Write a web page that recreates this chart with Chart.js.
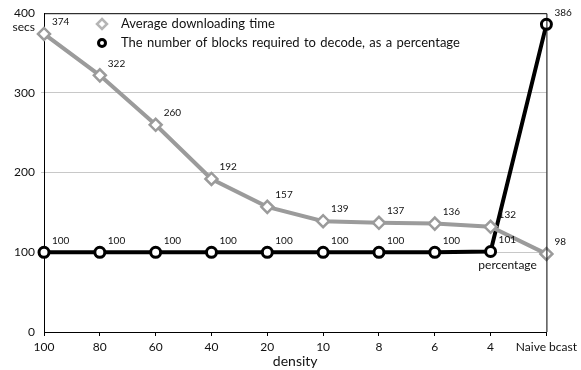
<!DOCTYPE html>
<html>
<head>
<meta charset="utf-8">
<script src="https://cdn.jsdelivr.net/npm/chart.js@4.4.1/dist/chart.umd.min.js"></script>
<style>
  html, body { margin: 0; padding: 0; background: #fff; }
  #wrap { width: 581px; height: 370px; position: relative; }
</style>
</head>
<body>
<div id="wrap"><canvas id="chart"></canvas></div>
<script>
// ---------- Data ----------
const densities = ["100", "80", "60", "40", "20", "10", "8", "6", "4", "Naive bcast"];
const avgDownloadTime = [374, 322, 260, 192, 157, 139, 137, 136, 132, 98];
const blocksPercent = [100, 100, 100, 100, 100, 100, 100, 100, 101, 386];
const yTicks = [0, 100, 200, 300, 400];

const GRAY = "#9b9b9b";
const FONT = "Lato, 'Open Sans', sans-serif";

// ---------- Plugin: frame, labels, legend ----------
const decorations = {
  id: "decorations",
  afterDatasetsDraw(chart) {
    const { ctx, chartArea: a, scales } = chart;
    ctx.save();

    // frame (top + right)
    ctx.strokeStyle = "#000";
    ctx.lineWidth = 1;
    ctx.beginPath();
    ctx.moveTo(a.left, a.top + 0.5);
    ctx.lineTo(a.right + 0.5, a.top + 0.5);
    ctx.lineTo(a.right + 0.5, a.bottom);
    ctx.stroke();

    // value labels
    ctx.font = "10px " + FONT;
    ctx.fillStyle = "#111";
    ctx.textAlign = "left";
    ctx.textBaseline = "middle";
    chart.data.datasets.forEach((ds, di) => {
      chart.getDatasetMeta(di).data.forEach((pt, i) => {
        ctx.fillText(String(ds.data[i]), pt.x + 8, pt.y - 12);
      });
    });

    // "percentage" note under the 4 / percentage point
    const p = chart.getDatasetMeta(1).data[8];
    ctx.font = "12px " + FONT;
    ctx.textAlign = "center";
    ctx.fillText("percentage", p.x + 17, p.y + 14);

    // "secs" unit under the top tick
    ctx.textAlign = "right";
    ctx.fillText("secs", a.left - 9, scales.y.getPixelForValue(400) + 14);

    // legend
    const lx = 102, ly = 24, gap = 19;
    ctx.font = "13px " + FONT;
    ctx.textAlign = "left";
    ctx.lineWidth = 2.5;
    ctx.fillStyle = "#fff";
    ctx.strokeStyle = "#b5b5b5";
    ctx.beginPath();
    ctx.moveTo(lx, ly - 5); ctx.lineTo(lx + 5, ly); ctx.lineTo(lx, ly + 5); ctx.lineTo(lx - 5, ly);
    ctx.closePath(); ctx.fill(); ctx.stroke();
    ctx.strokeStyle = "#000";
    ctx.lineWidth = 3;
    ctx.beginPath();
    ctx.arc(lx, ly + gap, 3.5, 0, Math.PI * 2);
    ctx.fill(); ctx.stroke();
    ctx.fillStyle = "#111";
    ctx.wordSpacing = "1px";
    chart.data.datasets.forEach((ds, di) => {
      ctx.fillText(ds.label, lx + 19, ly + di * gap);
    });

    ctx.restore();
  }
};

// ---------- Chart ----------
new Chart(document.getElementById("chart"), {
  type: "line",
  data: {
    labels: densities,
    datasets: [
      {
        label: "Average downloading time",
        data: avgDownloadTime,
        borderColor: GRAY,
        borderWidth: 4,
        pointStyle: "rectRot",
        pointRadius: 6,
        pointBorderWidth: 2.5,
        pointBackgroundColor: "#fff",
        pointBorderColor: GRAY,
        tension: 0
      },
      {
        label: "The number of blocks required to decode, as a percentage",
        data: blocksPercent,
        borderColor: "#000",
        borderWidth: 4,
        pointStyle: "circle",
        pointRadius: 5,
        pointBorderWidth: 3,
        pointBackgroundColor: "#fff",
        pointBorderColor: "#000",
        tension: 0
      }
    ]
  },
  options: {
    responsive: true,
    maintainAspectRatio: false,
    animation: false,
    layout: { padding: { top: 11, right: 34, left: 0, bottom: 0 } },
    plugins: {
      legend: { display: false },
      tooltip: { enabled: false }
    },
    scales: {
      x: {
        offset: false,
        grid: { drawOnChartArea: false, tickLength: 4, color: "#000" },
        border: { color: "#000", width: 1 },
        ticks: { color: "#111", font: { family: FONT, size: 12 }, padding: 4, maxRotation: 0, autoSkip: false },
        title: { display: true, text: "density", color: "#111", font: { family: FONT, size: 14 }, padding: { top: -6, bottom: 0 } },
        afterFit(axis) { axis.height = 38; }
      },
      y: {
        min: 0,
        max: 400,
        afterBuildTicks(axis) { axis.ticks = yTicks.map(v => ({ value: v })); },
        grid: {
          color: ctx => (ctx.tick && ctx.tick.value > 0 && ctx.tick.value < 400) ? "#c8c8c8" : "rgba(0,0,0,0)",
          tickLength: 3
        },
        border: { color: "#000", width: 1 },
        ticks: { color: "#111", font: { family: FONT, size: 12 }, padding: 6 },
        afterFit(axis) { axis.width = 44; }
      }
    }
  },
  plugins: [decorations]
});
</script>
</body>
</html>
